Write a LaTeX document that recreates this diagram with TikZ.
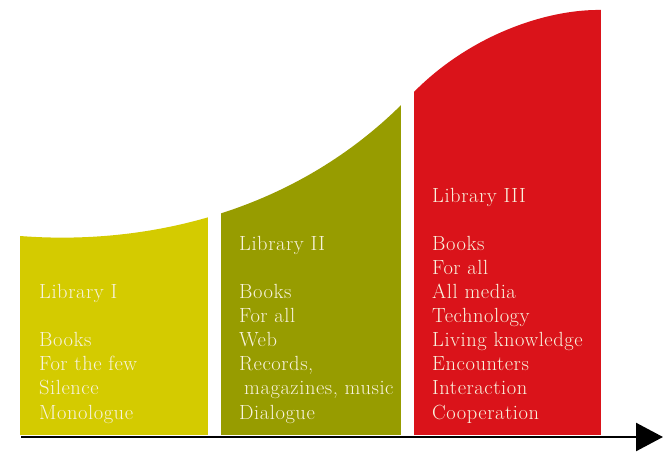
\documentclass[tikz,border=0pt]{standalone}
\usepackage{fontspec}
\setmainfont{Latin Modern Roman}[LetterSpace=2.7]
\usetikzlibrary{arrows.meta}
\definecolor{libone}{RGB}{212,203,0}
\definecolor{libtwo}{RGB}{151,156,0}
\definecolor{libthree}{RGB}{218,19,26}
\definecolor{cream}{RGB}{248,243,222}
\tikzset{libtext/.style = {anchor = base west, align = left, inner sep = 0, text = cream, font = \fontsize{20.5}{24.1}\selectfont}}
\tikzset{axis/.style = {line width = 2.5pt, -{Triangle[length=27pt, width=28pt]}}}

\begin{document}
\begin{tikzpicture}[x=1pt, y=1pt]
\useasboundingbox (0,0) rectangle (664,451);
\begin{scope}
\clip (20,16) -- (20,215) .. controls (150,205) and (300,240) .. (410,355) .. controls (470,418) and (550,442) .. (601,441) -- (601,16) -- cycle;
\fill[libone] (20,16) rectangle (208,451);
\fill[libtwo] (221,16) rectangle (401,451);
\fill[libthree] (414,16) rectangle (601,451);
\end{scope}
\node[libtext] (lib1) at (39,32) {Library I\\[24.1pt]Books\\For the few\\Silence\\Monologue};
\node[libtext] (lib2) at (239,32) {Library II\\[24.1pt]Books\\For all\\Web\\Records,\\\hspace{5pt}magazines, music\\Dialogue};
\node[libtext] (lib3) at (432,32) {Library III\\[24.1pt]Books\\For all\\All media\\Technology\\Living knowledge\\Encounters\\Interaction\\Cooperation};
\coordinate (start) at (21,14);
\coordinate (end) at (663,14);
\draw[axis] (start) -- (end);
\end{tikzpicture}
\end{document}
